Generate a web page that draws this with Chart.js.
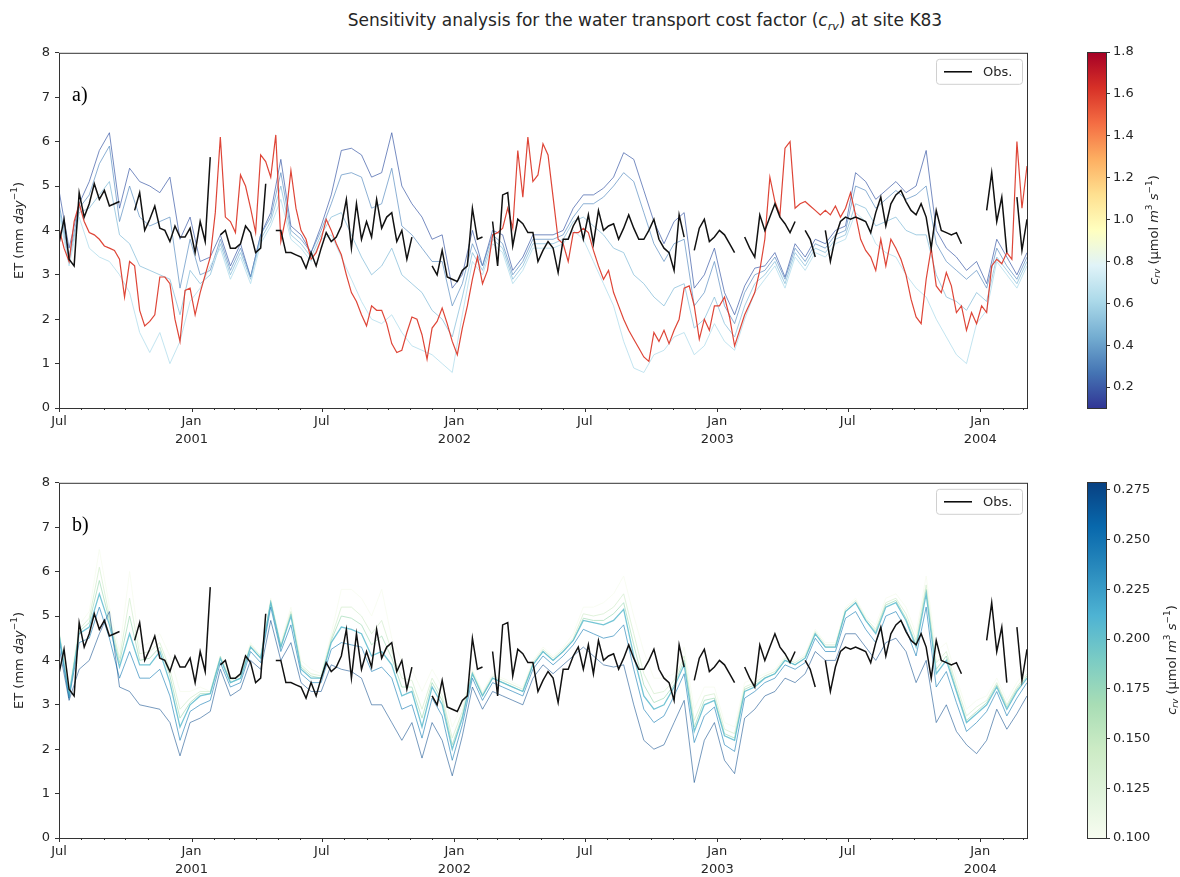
<!DOCTYPE html>
<html>
<head>
<meta charset="utf-8">
<script src="https://cdn.jsdelivr.net/npm/chart.js@4.4.1/dist/chart.umd.min.js"></script>
<style>
  body { margin: 0; background: #fff; }
  #wrap { position: relative; width: 1180px; height: 877px; overflow: hidden; font-family: 'DejaVu Sans', sans-serif; }
  #title { position: absolute; top: 10px; left: 645px; transform: translateX(-50%); white-space: nowrap; font-size: 17px; color: #262626; }
  #title sub { font-size: 11px; }
  canvas { position: absolute; }
</style>
</head>
<body>
<div id="wrap">
  <div id="title">Sensitivity analysis for the water transport cost factor (<i>c<sub>rv</sub></i>) at site K83</div>
  <canvas id="chartA" width="1040" height="415" style="left:0;top:40px"></canvas>
  <canvas id="barA" width="100" height="380" style="left:1080px;top:40px"></canvas>
  <canvas id="chartB" width="1040" height="407" style="left:0;top:470px"></canvas>
  <canvas id="barB" width="100" height="380" style="left:1080px;top:470px"></canvas>
</div>
<script>
// ── Data: weekly ET (mm/day) from 1 Jul 2000 ─────────────────
const startYear = 2000, startMonth = 6;   // July 2000
const lastWeek = 192;

// observed ET, one value per week (null = missing)
const obsET = [
  3.7, 4.25, 3.35, 3.2, 4.85, 4.3, 4.6, 5.05, 4.7, 4.9,
  4.55, 4.6, 4.65, null, null, 4.45, 4.85, 4.0, 4.25, 4.55,
  4.05, 4.0, 3.75, 4.1, 3.85, 3.85, 4.05, 3.5, 4.2, 3.75,
  5.65, null, 3.9, 4.0, 3.6, 3.6, 3.7, 4.1, 3.95, 3.5,
  3.6, 5.05, null, 4.0, 4.0, 3.5, 3.5, 3.45, 3.4, 3.15,
  3.5, 3.2, 3.6, 3.95, 3.75, 3.85, 4.1, 4.7, 3.6, 4.6,
  3.8, 4.2, 3.85, 4.7, 4.05, 4.3, 4.4, 3.75, 4.0, 3.35,
  3.85, null, null, null, 3.2, 3.0, 3.55, 2.95, 2.9, 2.85,
  3.1, 3.2, 4.5, 3.8, 3.85, null, 4.2, 3.2, 4.8, 4.85,
  3.65, 4.25, 4.15, 3.95, 3.95, 3.3, 3.55, 3.75, 3.6, 3.05,
  3.8, 3.8, 4.1, 4.3, 3.8, 4.35, 3.7, 4.45, 4.0, 4.1,
  4.15, 3.8, 4.05, 4.35, 4.05, 3.8, 3.8, 4.0, 4.25, 3.8,
  3.6, 3.5, 3.1, 4.35, 3.85, null, 3.55, 4.05, 4.25, 3.75,
  3.85, 4.0, 3.9, 3.7, 3.5, null, 3.85, 3.6, 3.4, 4.35,
  4.0, 4.3, 4.6, 4.3, 4.15, 3.95, 4.2, null, 4.0, 3.8,
  3.4, null, 4.0, 3.3, 3.85, 4.2, 4.3, 4.25, 4.3, 4.25,
  4.2, 3.95, 4.4, 4.75, 4.1, 4.6, 4.8, 4.9, 4.65, 4.45,
  4.35, 4.6, 4.3, 3.6, 4.45, 4.0, 3.95, 3.9, 3.95, 3.7,
  null, null, null, null, 4.45, 5.3, 4.2, 4.75, 3.5, null,
  4.75, 3.55, 4.25
];

// panel a: c_rv values and simulated ET (blue runs every 2 weeks, high c_rv weekly)
const cvrA = [0.2, 0.35, 0.5, 0.65, 1.6];
const etA_020 = [
  4.9, 3.6, 4.6, 5.1, 5.8, 6.2, 4.5, 5.4, 5.1, 5.0,
  4.85, 5.2, 3.8, 4.3, 3.3, 3.4, 3.9, 3.2, 3.7, 2.95,
  3.9, 4.4, 5.6, 4.1, 3.9, 3.5, 4.1, 4.8, 5.8, 5.85,
  5.7, 5.2, 5.3, 6.2, 5.0, 4.6, 4.3, 3.8, 3.9, 2.7,
  3.0, 4.0, 3.2, 4.0, 3.9, 3.1, 3.4, 3.9, 3.9, 3.9,
  4.0, 4.5, 4.8, 4.8, 4.95, 5.2, 5.75, 5.6, 4.9, 4.2,
  3.7, 4.2, 4.4, 2.7, 3.0, 3.6, 2.6, 2.1, 2.75, 3.15,
  3.2, 3.5, 2.95, 3.7, 3.4, 3.8, 3.7, 4.0, 4.1, 5.3,
  5.1, 4.7, 4.9, 5.1, 4.85, 5.0, 5.8, 4.0, 3.6, 3.4,
  3.1, 3.3, 2.8, 3.8, 3.4, 3.0, 3.5
];
const etA_035 = [
  4.6, 3.4, 4.5, 4.8, 5.5, 5.9, 4.2, 5.0, 4.3, 4.1,
  4.2, 4.3, 2.7, 3.8, 3.0, 3.1, 3.8, 3.1, 3.6, 2.95,
  3.9, 4.3, 5.3, 4.0, 3.8, 3.5, 4.0, 4.6, 5.25, 5.3,
  5.2, 4.5, 4.6, 5.4, 4.1, 3.9, 3.6, 3.3, 3.3, 2.3,
  2.8, 3.7, 3.2, 3.9, 3.7, 3.0, 3.3, 3.8, 3.8, 3.8,
  3.9, 4.3, 4.6, 4.6, 4.75, 5.0, 5.3, 5.1, 4.4, 3.7,
  3.3, 3.7, 3.8, 2.3, 2.6, 3.3, 2.3, 1.9, 2.6, 3.0,
  3.1, 3.4, 2.9, 3.6, 3.3, 3.7, 3.6, 3.9, 4.0, 5.0,
  4.9, 4.5, 4.7, 4.9, 4.7, 4.8, 5.0, 3.7, 3.3, 3.1,
  2.9, 3.1, 2.7, 3.6, 3.2, 2.9, 3.4
];
const etA_050 = [
  4.5, 3.3, 4.4, 4.5, 4.8, 5.1, 3.9, 3.7, 3.2, 3.1,
  3.0, 2.9, 2.1, 3.1, 2.8, 3.0, 3.7, 3.0, 3.5, 2.9,
  3.8, 4.2, 5.0, 3.9, 3.7, 3.4, 3.9, 4.3, 4.4, 3.9,
  3.4, 3.0, 3.2, 3.6, 3.0, 2.8, 2.6, 2.2, 2.0, 1.6,
  2.5, 3.5, 3.1, 3.8, 3.6, 2.9, 3.2, 3.7, 3.7, 3.7,
  3.8, 4.2, 4.3, 4.1, 3.9, 3.6, 3.5, 3.0, 2.8, 2.5,
  2.3, 2.7, 2.8, 1.8, 2.0, 2.5, 1.9, 1.6, 2.3, 2.8,
  3.0, 3.3, 2.8, 3.5, 3.2, 3.6, 3.5, 3.8, 3.9, 4.6,
  4.5, 4.1, 4.2, 4.3, 4.0, 3.9, 3.9, 3.0, 2.5, 2.4,
  2.2, 2.6, 2.4, 3.4, 3.1, 2.8, 3.3
];
const etA_065 = [
  4.4, 3.2, 4.3, 3.6, 3.4, 3.3, 3.0, 2.6, 1.7, 1.25,
  1.7, 1.0, 1.5, 2.4, 2.7, 3.2, 3.6, 2.9, 3.4, 2.8,
  3.7, 4.1, 4.7, 3.8, 3.6, 3.3, 3.8, 3.9, 3.4, 2.9,
  2.4, 2.0, 1.9, 2.1, 1.7, 1.4, 1.3, 1.2, 1.0, 0.8,
  2.1, 3.3, 3.0, 3.7, 3.5, 2.8, 3.1, 3.6, 3.6, 3.6,
  3.7, 4.0, 3.8, 3.3, 2.8, 2.3, 1.5, 0.9, 0.8, 1.2,
  1.3, 1.6, 1.7, 1.2, 1.4, 1.9, 1.5, 1.3, 2.0, 2.6,
  2.9, 3.2, 2.7, 3.4, 3.1, 3.5, 3.4, 3.7, 3.8, 4.4,
  4.2, 3.7, 3.5, 3.4, 3.0, 2.7, 2.5, 2.0, 1.6, 1.2,
  1.0, 1.9, 2.2, 3.3, 3.0, 2.7, 3.2
];
const etA_160 = [
  4.05, 3.6, 3.3, 4.2, 4.6, 4.2, 3.95, 3.9, 3.8, 3.65,
  3.6, 3.55, 3.35, 2.5, 3.3, 3.2, 2.2, 1.85, 1.95, 2.1,
  2.95, 2.95, 2.8, 2.0, 1.5, 2.65, 2.7, 2.1, 2.6, 3.0,
  3.4, 4.4, 6.1, 4.3, 4.2, 3.95, 5.25, 5.0, 4.5, 3.95,
  5.7, 5.55, 5.2, 6.15, 3.75, 4.3, 5.35, 4.5, 4.0, 3.8,
  3.35, 3.5, 3.8, 4.25, 4.0, 3.7, 3.45, 3.0, 2.6, 2.4,
  2.1, 1.85, 2.3, 2.2, 2.2, 1.9, 1.45, 1.25, 1.3, 1.7,
  2.05, 2.0, 1.65, 1.1, 1.8, 1.95, 2.25, 1.9, 1.5, 1.2,
  1.8, 2.3, 2.9, 3.4, 2.8, 3.1, 3.9, 3.95, 4.05, 4.5,
  4.05, 5.8, 4.75, 6.1, 5.1, 5.25, 5.95, 5.7, 4.75, 3.8,
  3.7, 3.3, 3.95, 3.95, 4.05, 3.95, 3.55, 3.2, 2.9, 3.1,
  2.6, 2.3, 2.0, 1.75, 1.55, 1.35, 1.15, 1.05, 1.7, 1.5,
  1.75, 1.45, 1.75, 2.0, 2.7, 2.75, 2.3, 1.55, 2.0, 1.75,
  2.3, 2.3, 2.5, 2.05, 1.4, 1.75, 2.1, 2.35, 2.6, 3.1,
  3.8, 5.2, 4.65, 4.35, 5.85, 6.0, 4.5, 4.6, 4.65, 4.55,
  4.45, 4.35, 4.45, 4.35, 4.55, 4.3, 4.5, 4.85, 4.35, 3.8,
  3.55, 3.4, 3.1, 3.8, 3.2, 3.8, 3.6, 3.35, 3.0, 2.45,
  2.05, 1.9, 2.9, 3.6, 2.75, 2.6, 3.05, 2.75, 2.15, 2.3,
  1.75, 2.15, 1.9, 2.3, 2.15, 3.2, 3.35, 3.25, 3.5, 3.35,
  6.0, 4.5, 5.45
];

// panel b: low c_rv range, every 2 weeks
const cvrB = [0.1, 0.135, 0.17, 0.205, 0.24, 0.275];
const etB_100 = [
  4.7, 3.3, 4.8, 5.1, 6.5, 5.2, 4.2, 6.0, 4.3, 4.4,
  4.6, 4.1, 3.3, 3.3, 3.4, 3.3, 4.1, 3.6, 3.7, 4.4,
  4.1, 5.4, 4.4, 5.2, 4.0, 3.8, 3.7, 4.6, 5.6, 5.6,
  5.4, 5.0, 5.6, 4.5, 4.0, 3.8, 3.3, 3.8, 3.4, 2.5,
  3.0, 3.8, 3.3, 3.7, 3.6, 3.5, 3.4, 4.0, 4.3, 4.1,
  4.3, 4.6, 5.2, 5.2, 5.3, 5.5, 5.9, 5.0, 4.2, 3.6,
  3.6, 3.7, 4.3, 2.9, 3.4, 3.4, 2.6, 2.5, 3.5, 3.6,
  3.7, 3.8, 4.1, 4.0, 4.15, 4.7, 4.4, 4.4, 5.2, 5.4,
  5.0, 4.8, 5.4, 5.5, 5.2, 4.6, 5.9, 4.2, 4.4, 3.6,
  2.9, 3.1, 3.2, 3.6, 3.1, 3.5, 3.8
];
const etB_135 = [
  4.65, 3.25, 4.7, 4.95, 6.1, 5.0, 4.05, 5.4, 4.15, 4.2,
  4.4, 3.8, 2.9, 3.15, 3.3, 3.3, 4.1, 3.55, 3.65, 4.35,
  4.1, 5.35, 4.35, 5.1, 3.9, 3.7, 3.65, 4.5, 5.2, 5.2,
  5.0, 4.6, 4.9, 4.2, 3.6, 3.55, 2.9, 3.6, 3.2, 2.25,
  2.85, 3.75, 3.25, 3.65, 3.55, 3.45, 3.35, 3.95, 4.25, 4.05,
  4.25, 4.5, 5.05, 5.0, 5.05, 5.2, 5.5, 4.6, 3.7, 3.25,
  3.3, 3.55, 4.1, 2.65, 3.2, 3.25, 2.45, 2.35, 3.4, 3.5,
  3.65, 3.75, 4.05, 3.95, 4.1, 4.65, 4.35, 4.35, 5.15, 5.35,
  4.95, 4.7, 5.3, 5.4, 5.05, 4.45, 5.7, 3.95, 4.2, 3.45,
  2.75, 2.95, 3.1, 3.5, 3.0, 3.4, 3.7
];
const etB_170 = [
  4.6, 3.2, 4.65, 4.85, 5.8, 4.9, 3.95, 5.0, 4.0, 4.05,
  4.3, 3.65, 2.7, 3.05, 3.25, 3.25, 4.05, 3.5, 3.6, 4.3,
  4.05, 5.3, 4.3, 5.05, 3.85, 3.65, 3.6, 4.45, 5.0, 4.95,
  4.8, 4.35, 4.55, 4.05, 3.4, 3.4, 2.7, 3.5, 3.1, 2.1,
  2.75, 3.7, 3.2, 3.6, 3.5, 3.4, 3.3, 3.9, 4.2, 4.0,
  4.2, 4.45, 4.95, 4.9, 4.9, 5.05, 5.3, 4.35, 3.45, 3.05,
  3.15, 3.45, 4.0, 2.5, 3.1, 3.15, 2.35, 2.25, 3.35, 3.45,
  3.6, 3.7, 4.0, 3.9, 4.05, 4.6, 4.3, 4.3, 5.1, 5.3,
  4.9, 4.65, 5.25, 5.35, 4.95, 4.35, 5.6, 3.8, 4.1, 3.35,
  2.65, 2.85, 3.05, 3.45, 2.95, 3.35, 3.65
];
const etB_205 = [
  4.6, 3.2, 4.6, 4.75, 5.5, 4.8, 3.85, 4.6, 3.9, 3.9,
  4.2, 3.5, 2.5, 3.0, 3.2, 3.25, 4.05, 3.5, 3.6, 4.3,
  4.05, 5.3, 4.3, 5.0, 3.8, 3.6, 3.6, 4.4, 4.75, 4.7,
  4.6, 4.1, 4.2, 3.9, 3.2, 3.3, 2.5, 3.4, 3.0, 2.0,
  2.7, 3.7, 3.2, 3.6, 3.5, 3.4, 3.3, 3.9, 4.2, 4.0,
  4.2, 4.45, 4.9, 4.85, 4.8, 4.9, 5.15, 4.1, 3.2, 2.9,
  3.0, 3.4, 3.9, 2.4, 3.0, 3.1, 2.3, 2.2, 3.3, 3.4,
  3.6, 3.7, 4.0, 3.9, 4.05, 4.6, 4.3, 4.3, 5.1, 5.3,
  4.9, 4.6, 5.2, 5.3, 4.9, 4.3, 5.5, 3.7, 4.0, 3.3,
  2.6, 2.8, 3.0, 3.4, 2.9, 3.3, 3.6
];
const etB_240 = [
  4.5, 3.15, 4.4, 4.5, 5.2, 4.5, 3.6, 4.2, 3.6, 3.6,
  3.8, 3.2, 2.2, 2.85, 3.0, 3.1, 3.95, 3.4, 3.5, 4.2,
  3.95, 5.2, 4.2, 4.8, 3.7, 3.5, 3.5, 4.25, 4.4, 4.35,
  4.3, 3.75, 3.85, 3.6, 2.9, 3.0, 2.25, 3.15, 2.75, 1.75,
  2.55, 3.6, 3.1, 3.5, 3.4, 3.3, 3.2, 3.8, 4.1, 3.9,
  4.1, 4.35, 4.7, 4.6, 4.5, 4.55, 4.8, 3.8, 2.9, 2.6,
  2.75, 3.2, 3.7, 2.15, 2.75, 2.95, 2.1, 1.95, 3.15, 3.3,
  3.5, 3.6, 3.9, 3.8, 3.95, 4.5, 4.2, 4.2, 4.95, 5.1,
  4.7, 4.4, 5.0, 5.1, 4.7, 4.1, 5.2, 3.4, 3.75, 3.05,
  2.4, 2.6, 2.85, 3.3, 2.75, 3.15, 3.5
];
const etB_275 = [
  4.3, 3.1, 3.8, 4.0, 4.6, 5.1, 3.4, 3.3, 3.0, 2.95,
  2.9, 2.6, 1.85, 2.6, 2.7, 2.85, 3.8, 3.2, 3.35, 4.0,
  3.8, 4.9, 4.0, 4.4, 3.5, 3.3, 3.3, 3.9, 3.8, 3.75,
  3.6, 3.0, 3.0, 2.6, 2.2, 2.6, 1.8, 2.6, 2.2, 1.4,
  2.3, 3.4, 2.9, 3.3, 3.2, 3.1, 3.0, 3.6, 3.9, 3.7,
  3.9, 4.1, 4.3, 4.1, 3.9, 3.85, 3.9, 3.0, 2.2, 2.0,
  2.1, 2.6, 3.1, 1.25, 2.2, 2.6, 1.75, 1.45, 2.7, 2.9,
  3.2, 3.3, 3.6, 3.5, 3.7, 4.2, 4.0, 4.0, 4.6, 4.6,
  4.3, 4.0, 4.4, 4.5, 4.2, 3.5, 4.0, 2.6, 3.0, 2.4,
  2.1, 1.9, 2.2, 2.9, 2.45, 2.8, 3.2
];

// colorbar ranges and ticks
const barRangeA = [0.1, 1.8];
const barTicksA = [0.2, 0.4, 0.6, 0.8, 1.0, 1.2, 1.4, 1.6, 1.8];
const barRangeB = [0.1, 0.279];
const barTicksB = [0.1, 0.125, 0.15, 0.175, 0.2, 0.225, 0.25, 0.275];

// ── Colormaps ────────────────────────────────────────────
const rdylbuR = ['#313695', '#4575b4', '#74add1', '#abd9e9', '#e0f3f8', '#ffffbf',
                 '#fee090', '#fdae61', '#f46d43', '#d73027', '#a50026'];
const gnbu = ['#f7fcf0', '#e0f3db', '#ccebc5', '#a8ddb5', '#7bccc4', '#4eb3d3',
              '#2b8cbe', '#0868ac', '#084081'];

function hexRgb(h) {
    return [parseInt(h.slice(1, 3), 16), parseInt(h.slice(3, 5), 16), parseInt(h.slice(5, 7), 16)];
}
function cmap(stops, t, alpha) {
    t = Math.max(0, Math.min(1, t));
    const pos = t * (stops.length - 1);
    const i = Math.min(Math.floor(pos), stops.length - 2);
    const f = pos - i;
    const a = hexRgb(stops[i]), b = hexRgb(stops[i + 1]);
    const c = a.map((v, k) => Math.round(v + (b[k] - v) * f));
    return `rgba(${c[0]},${c[1]},${c[2]},${alpha})`;
}

// ── Time axis ────────────────────────────────────────────
const startUTC = Date.UTC(startYear, startMonth, 1);
const monthTicks = [];
for (let y = startYear, m = startMonth; ; ) {
    const day = (Date.UTC(y, m, 1) - startUTC) / 864e5;
    if (day > lastWeek * 7) break;
    monthTicks.push({ day, m, y });
    if (++m > 11) { m = 0; y++; }
}
function monthLabel(t) {
    if (t.m === 6) return 'Jul';
    if (t.m === 0) return ['Jan', String(t.y)];
    return '';
}

Chart.defaults.font.family = "'DejaVu Sans', sans-serif";
Chart.defaults.font.size = 13;
Chart.defaults.color = '#262626';

function series(values, stepWeeks, color, width) {
    return {
        data: values.map((v, i) => ({ x: i * stepWeeks * 7, y: v })),
        borderColor: color, borderWidth: width,
        pointRadius: 0, pointHoverRadius: 0,
        fill: false, tension: 0, spanGaps: false
    };
}

// rotated text with italic / sub / superscript pieces
function fontOf(p) {
    return `${p.it ? 'italic ' : ''}${p.size || 13}px 'DejaVu Sans'`;
}
function drawRotated(ctx, cx, cy, parts) {
    ctx.save();
    ctx.translate(cx, cy);
    ctx.rotate(-Math.PI / 2);
    ctx.textBaseline = 'middle';
    ctx.textAlign = 'left';
    ctx.fillStyle = '#262626';
    let total = 0;
    parts.forEach(p => { ctx.font = fontOf(p); p.w = ctx.measureText(p.t).width; total += p.w; });
    let x = -total / 2;
    parts.forEach(p => { ctx.font = fontOf(p); ctx.fillText(p.t, x, p.dy || 0); x += p.w; });
    ctx.restore();
}

const yTitle = [{ t: 'ET (mm ' }, { t: 'day', it: true }, { t: '\u22121', size: 9, dy: -5 }, { t: ')' }];
const barTitle = [{ t: 'c', it: true }, { t: 'rv', it: true, size: 9, dy: 3 }, { t: ' (\u03bcmol ' },
                  { t: 'm', it: true }, { t: '3', size: 9, dy: -5 }, { t: ' ' },
                  { t: 's', it: true }, { t: '\u22121', size: 9, dy: -5 }, { t: ')' }];

// frame, month ticks, panel tag, y title and the Obs. legend
function panelDecor(tag) {
    return {
        id: 'decor' + tag,
        afterDraw(chart) {
            const { ctx, chartArea: a, scales } = chart;
            ctx.save();
            ctx.strokeStyle = '#333';
            ctx.lineWidth = 1;
            ctx.strokeRect(a.left + 0.5, a.top + 0.5, a.right - a.left, a.bottom - a.top);
            ctx.beginPath();
            monthTicks.forEach(t => {
                const px = Math.round(scales.x.getPixelForValue(t.day)) + 0.5;
                const len = monthLabel(t) ? 4 : 2;
                ctx.moveTo(px, a.bottom);
                ctx.lineTo(px, a.bottom + len);
            });
            ctx.stroke();

            ctx.fillStyle = '#000';
            ctx.font = "20px 'Liberation Serif'";
            ctx.textBaseline = 'middle';
            ctx.fillText(tag + ')', 72, a.top + 43);

            // legend box
            const bx = 936, by = a.top + 6, bw = 86, bh = 25;
            ctx.beginPath();
            ctx.roundRect(bx + 0.5, by + 0.5, bw, bh, 3);
            ctx.fillStyle = 'rgba(255,255,255,0.85)';
            ctx.fill();
            ctx.strokeStyle = '#d0d0d0';
            ctx.stroke();
            ctx.beginPath();
            ctx.moveTo(944, by + bh / 2 + 0.5);
            ctx.lineTo(972, by + bh / 2 + 0.5);
            ctx.strokeStyle = '#000';
            ctx.lineWidth = 1.5;
            ctx.stroke();
            ctx.fillStyle = '#262626';
            ctx.font = "13px 'DejaVu Sans'";
            ctx.fillText('Obs.', 983, by + bh / 2 + 1);
            ctx.restore();

            drawRotated(ctx, 20, (a.top + a.bottom) / 2, yTitle.map(p => ({ ...p })));
        }
    };
}

function makePanel(id, tag, datasets, height) {
    return new Chart(document.getElementById(id), {
        type: 'line',
        data: { datasets },
        options: {
            responsive: false, animation: false, events: [],
            layout: { padding: { top: 12, right: 13, left: 0, bottom: 0 } },
            plugins: { legend: { display: false }, tooltip: { enabled: false } },
            scales: {
                x: {
                    type: 'linear', min: 0, max: lastWeek * 7,
                    afterBuildTicks: s => { s.ticks = monthTicks.map(t => ({ value: t.day })); },
                    afterFit: s => { s.height = height - 368; },
                    grid: { display: false, drawTicks: false },
                    border: { display: false },
                    ticks: {
                        autoSkip: false, maxRotation: 0, padding: 5,
                        font: { size: 13, lineHeight: 1.35 },
                        callback: (v, i) => monthLabel(monthTicks[i])
                    }
                },
                y: {
                    min: 0, max: 8,
                    afterFit: s => { s.width = 59; },
                    ticks: { stepSize: 1, padding: 5 },
                    grid: { drawOnChartArea: false, tickLength: 4, color: '#333' },
                    border: { display: false }
                }
            }
        },
        plugins: [panelDecor(tag)]
    });
}

// ── Panel a ──────────────────────────────────────────────
const normA = v => (v - barRangeA[0]) / (barRangeA[1] - barRangeA[0]);
makePanel('chartA', 'a', [
    series(obsET, 1, '#111', 1.5),
    series(etA_160, 1, cmap(rdylbuR, normA(cvrA[4]), 0.95), 1.2),
    series(etA_065, 2, cmap(rdylbuR, normA(cvrA[3]), 0.85), 1),
    series(etA_050, 2, cmap(rdylbuR, normA(cvrA[2]), 0.75), 1),
    series(etA_035, 2, cmap(rdylbuR, normA(cvrA[1]), 0.7), 1),
    series(etA_020, 2, cmap(rdylbuR, normA(cvrA[0]), 0.7), 1)
], 415);

// ── Panel b ──────────────────────────────────────────────
const normB = v => (v - barRangeB[0]) / (barRangeB[1] - barRangeB[0]);
makePanel('chartB', 'b', [
    series(obsET, 1, '#111', 1.5),
    series(etB_275, 2, cmap(gnbu, normB(cvrB[5]), 0.55), 1),
    series(etB_240, 2, cmap(gnbu, normB(cvrB[4]), 0.65), 1),
    series(etB_205, 2, cmap(gnbu, normB(cvrB[3]), 0.85), 1.3),
    series(etB_170, 2, cmap(gnbu, normB(cvrB[2]), 0.7), 1),
    series(etB_135, 2, cmap(gnbu, normB(cvrB[1]), 0.75), 1),
    series(etB_100, 2, cmap(gnbu, normB(cvrB[0]), 0.85), 1)
], 407);

// ── Colorbars ────────────────────────────────────────────
function makeColorbar(id, stops, range, ticks, decimals, labelX) {
    return new Chart(document.getElementById(id), {
        type: 'line',
        data: { datasets: [] },
        options: {
            responsive: false, animation: false, events: [],
            layout: { padding: { left: 7, top: 12, bottom: 12, right: 0 } },
            plugins: { legend: { display: false }, tooltip: { enabled: false } },
            scales: {
                x: { type: 'linear', display: false, min: 0, max: 1 },
                y: {
                    type: 'linear', position: 'right', min: range[0], max: range[1],
                    afterBuildTicks: s => { s.ticks = ticks.map(v => ({ value: v })); },
                    afterFit: s => { s.width = 74; },
                    ticks: { padding: 3, callback: v => v.toFixed(decimals) },
                    grid: { drawOnChartArea: false, tickLength: 4, color: '#333' },
                    border: { display: false }
                }
            }
        },
        plugins: [{
            id: 'gradient' + id,
            beforeDatasetsDraw(chart) {
                const { ctx, chartArea: a } = chart;
                const g = ctx.createLinearGradient(0, a.bottom, 0, a.top);
                stops.forEach((c, i) => g.addColorStop(i / (stops.length - 1), c));
                ctx.save();
                ctx.fillStyle = g;
                ctx.fillRect(a.left, a.top, a.right - a.left, a.bottom - a.top);
                ctx.restore();
            },
            afterDraw(chart) {
                const { ctx, chartArea: a } = chart;
                ctx.save();
                ctx.strokeStyle = '#333';
                ctx.lineWidth = 1;
                ctx.strokeRect(a.left + 0.5, a.top + 0.5, a.right - a.left, a.bottom - a.top);
                ctx.restore();
                drawRotated(ctx, labelX, (a.top + a.bottom) / 2, barTitle.map(p => ({ ...p })));
            }
        }]
    });
}

makeColorbar('barA', rdylbuR, barRangeA, barTicksA, 1, 75);
makeColorbar('barB', gnbu, barRangeB, barTicksB, 3, 93);
</script>
</body>
</html>
